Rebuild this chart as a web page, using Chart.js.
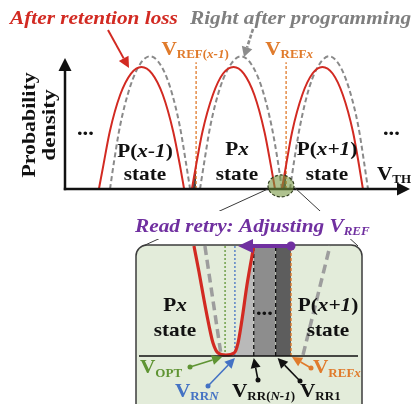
<!DOCTYPE html>
<html lang="en">
<head>
<meta charset="utf-8">
<title>Read retry: adjusting V_REF</title>
<script src="https://cdn.jsdelivr.net/npm/chart.js@4.4.1/dist/chart.umd.min.js"></script>
<style>
  html, body { margin: 0; padding: 0; background: #ffffff; overflow: hidden; }
  #stage { position: relative; width: 419px; height: 404px; }
  #stage canvas { position: absolute; left: 0; top: 0; }
</style>
</head>
<body>
<div id="stage">
  <canvas id="distChart" width="419" height="404"></canvas>
  <canvas id="zoomChart" width="419" height="404"></canvas>
</div>
<script>
// ---------- V_TH distributions: [V_TH (V), density relative to the programmed peak] ----------
const progPxm1 = [[1.5,0],[1.63,0.2],[1.83,0.47],[2.17,0.77],[2.5,0.94],[2.83,1.0],[3.17,0.94],[3.5,0.77],[3.83,0.47],[4.03,0.2],[4.17,0]];
const progPx   = [[4.5,0],[4.64,0.2],[4.84,0.47],[5.18,0.77],[5.53,0.94],[5.87,1.0],[6.21,0.94],[6.55,0.77],[6.89,0.47],[7.1,0.2],[7.23,0]];
const progPxp1 = [[7.5,0],[7.63,0.2],[7.83,0.47],[8.15,0.77],[8.48,0.94],[8.8,1.0],[9.13,0.94],[9.45,0.77],[9.78,0.47],[9.97,0.2],[10.1,0]];

const retPxm1 = [[1.13,0],[1.28,0.18],[1.49,0.43],[1.84,0.71],[2.2,0.87],[2.55,0.92],[2.9,0.87],[3.26,0.71],[3.61,0.43],[3.83,0.18],[3.97,0]];
const retPx   = [[4.23,0],[4.37,0.18],[4.58,0.43],[4.93,0.71],[5.27,0.87],[5.62,0.92],[5.96,0.87],[6.31,0.71],[6.65,0.43],[6.86,0.18],[7.0,0]];
const retPxp1 = [[7.23,0],[7.37,0.18],[7.57,0.43],[7.91,0.71],[8.25,0.87],[8.58,0.92],[8.92,0.87],[9.26,0.71],[9.6,0.43],[9.8,0.18],[9.93,0]];

// cells of the upper state that fall below the read reference
const misreadPx   = [[4.23,0],[4.3,0.08],[4.37,0.18],[4.37,0]];
const misreadPxp1 = [[7.23,0],[7.3,0.08],[7.37,0.18],[7.37,0]];

// read reference voltages
const refVoltages = [4.37, 7.37];
const refLineTop = 0.955;

// ---------- magnified valley between Px and P(x+1) ----------
const zoomRetained  = [[6.927,1.0],[6.95,0.764],[6.973,0.509],[6.996,0.273],[7.014,0.118],[7.037,0.027],[7.073,0.009],[7.11,0.027],[7.128,0.118],[7.146,0.327],[7.169,0.645],[7.2,1.0]];
const zoomProgLeft  = [[6.977,1.0],[7.05,0.02]];
const zoomProgRight = [[7.425,0.01],[7.548,1.0]];
const zoomLightShade = [[7.118,0],[7.128,0.118],[7.146,0.327],[7.169,0.645],[7.2,1.0],[7.2,0]];

// retry read levels (V)
const vOpt = 7.069, vRRN = 7.114, vRRNm1 = 7.2, vRR1 = 7.3, vREFx = 7.37;
const retryBands = [[vRRNm1, vRR1], [vRR1, vREFx]];
const adjustArrow = [vREFx, 7.128];

// ---------- styling ----------
const SERIF = '"Liberation Serif", "Times New Roman", serif';
const SX = 1.12;
const RED = '#d22a22', GREY = '#8a8a8a', ORANGE = '#e07b2c', PURPLE = '#7030a0',
      GREEN = '#5f9433', BLUE = '#4472c4', INK = '#111111';

const toXY = pts => pts.map(([x, y]) => ({ x, y }));
const n = t => ({ t }), it = t => ({ t, it: true }), sb = t => ({ t, sub: true }), sbi = t => ({ t, sub: true, it: true });

function drawRuns(ctx, runs, x, y, o) {
  const size = o.size || 19, subSize = o.subSize || 13, subDy = o.subDy ?? 3;
  const font = r => `${(r.it || o.italic) ? 'italic ' : ''}bold ${r.sub ? subSize : size}px ${SERIF}`;
  const sc = r => r.sub ? 1 : (o.sx ?? SX);
  let total = 0;
  for (const r of runs) { ctx.font = font(r); total += ctx.measureText(r.t).width * sc(r); }
  let cx = o.align === 'center' ? x - total / 2 : (o.align === 'right' ? x - total : x);
  ctx.save();
  ctx.fillStyle = o.color || INK;
  ctx.textAlign = 'left';
  ctx.textBaseline = 'alphabetic';
  for (const r of runs) {
    ctx.font = font(r);
    const w = ctx.measureText(r.t).width, s = sc(r);
    ctx.save();
    ctx.translate(cx, y + (r.sub ? subDy : 0));
    ctx.scale(s, 1);
    ctx.fillText(r.t, 0, 0);
    ctx.restore();
    cx += w * s;
  }
  ctx.restore();
  return total;
}

function arrow(ctx, x1, y1, x2, y2, o) {
  const len = o.head || 9, half = o.half || 4.5;
  const a = Math.atan2(y2 - y1, x2 - x1);
  const bx = x2 - Math.cos(a) * len, by = y2 - Math.sin(a) * len;
  ctx.save();
  ctx.strokeStyle = o.color; ctx.fillStyle = o.color;
  ctx.lineWidth = o.width || 1.5;
  ctx.setLineDash(o.dash || []);
  ctx.beginPath(); ctx.moveTo(x1, y1); ctx.lineTo(bx, by); ctx.stroke();
  ctx.setLineDash([]);
  ctx.beginPath();
  ctx.moveTo(x2, y2);
  ctx.lineTo(bx - Math.sin(a) * half, by + Math.cos(a) * half);
  ctx.lineTo(bx + Math.sin(a) * half, by - Math.cos(a) * half);
  ctx.closePath(); ctx.fill();
  if (o.dot) { ctx.beginPath(); ctx.arc(x1, y1, o.dot, 0, Math.PI * 2); ctx.fill(); }
  ctx.restore();
}

const curve = (pts, color, dash, order, width) => ({
  data: toXY(pts), borderColor: color, borderWidth: width, borderDash: dash,
  pointRadius: 0, fill: false, cubicInterpolationMode: 'monotone', order, clip: false
});
const area = (pts, color, order) => ({
  data: toXY(pts), borderWidth: 0, borderColor: 'rgba(0,0,0,0)', backgroundColor: color,
  pointRadius: 0, fill: 'origin', tension: 0, order, clip: false
});
const vline = (v, top, color, dash, width, order) => ({
  data: toXY([[v, 0], [v, top]]), borderColor: color, borderWidth: width, borderDash: dash,
  pointRadius: 0, fill: false, tension: 0, order, clip: false
});

const common = {
  responsive: false, animation: false, devicePixelRatio: 1, events: [],
  plugins: { legend: { display: false }, tooltip: { enabled: false } }
};

// ---------- upper plot: distributions ----------
const ELLIPSE = { v: 7.2, d: 0.023, rx: 13, ry: 11 };

const distDecor = {
  id: 'distDecor',
  afterDatasetsDraw(chart) {
    const { ctx, chartArea: a, scales: { x, y } } = chart;
    const y0 = y.getPixelForValue(0);
    // axes with arrow heads
    ctx.save();
    ctx.strokeStyle = INK; ctx.fillStyle = INK; ctx.lineWidth = 2.5;
    ctx.beginPath(); ctx.moveTo(a.left, y0 + 1.2); ctx.lineTo(a.left, 70); ctx.stroke();
    ctx.beginPath(); ctx.moveTo(a.left - 6.5, 71); ctx.lineTo(a.left, 58); ctx.lineTo(a.left + 6.5, 71); ctx.closePath(); ctx.fill();
    ctx.beginPath(); ctx.moveTo(a.left - 1.2, y0); ctx.lineTo(a.right - 11, y0); ctx.stroke();
    ctx.beginPath(); ctx.moveTo(a.right - 13, y0 - 6.5); ctx.lineTo(a.right, y0); ctx.lineTo(a.right - 13, y0 + 6.5); ctx.closePath(); ctx.fill();
    ctx.restore();

    // magnifier ellipse on the Px / P(x+1) valley
    const ex = x.getPixelForValue(ELLIPSE.v), ey = y.getPixelForValue(ELLIPSE.d);
    ctx.save();
    ctx.beginPath(); ctx.ellipse(ex, ey, ELLIPSE.rx, ELLIPSE.ry, 0, 0, Math.PI * 2);
    ctx.fillStyle = 'rgba(118,150,62,0.58)'; ctx.fill();
    ctx.setLineDash([3, 2]); ctx.lineWidth = 1.2; ctx.strokeStyle = '#2d3a1c'; ctx.stroke();
    ctx.restore();

    // legend-style titles with pointer arrows
    drawRuns(ctx, [n('After retention loss')], 10, 24, { color: RED, italic: true });
    drawRuns(ctx, [n('Right after programming')], 190, 24, { color: '#7f7f7f', italic: true });
    arrow(ctx, 108, 30, 129, 68, { color: RED, width: 2, head: 11, half: 5.5 });
    arrow(ctx, 253, 29, 244, 57, { color: '#8c8c8c', width: 2.6, head: 10, half: 5.5, dash: [4, 2] });

    // reference labels
    const r1 = x.getPixelForValue(refVoltages[0]), r2 = x.getPixelForValue(refVoltages[1]);
    drawRuns(ctx, [n('V'), sb('REF('), sbi('x-1'), sb(')')], r1 - 1, 55, { color: ORANGE, align: 'center' });
    drawRuns(ctx, [n('V'), sb('REF'), sbi('x')], r2 + 3, 55, { color: ORANGE, align: 'center' });

    // y-axis title
    ctx.save(); ctx.translate(34.5, 125); ctx.rotate(-Math.PI / 2);
    drawRuns(ctx, [n('Probability')], 0, 0, { align: 'center', size: 19.5 });
    ctx.restore();
    ctx.save(); ctx.translate(55, 125); ctx.rotate(-Math.PI / 2);
    drawRuns(ctx, [n('density')], 0, 0, { align: 'center', size: 19.5, sx: 1.2 });
    ctx.restore();

    // state labels
    drawRuns(ctx, [n('P('), it('x-1'), n(')')], 145, 157, { align: 'center' });
    drawRuns(ctx, [n('state')], 145, 180, { align: 'center' });
    drawRuns(ctx, [n('P'), it('x')], 237, 155, { align: 'center' });
    drawRuns(ctx, [n('state')], 237, 180, { align: 'center' });
    drawRuns(ctx, [n('P('), it('x+1'), n(')')], 327, 155, { align: 'center' });
    drawRuns(ctx, [n('state')], 327, 180, { align: 'center' });
    drawRuns(ctx, [n('...')], 77, 135, { size: 20 });
    drawRuns(ctx, [n('...')], 383, 135, { size: 20 });
    drawRuns(ctx, [n('V'), sb('TH')], 377, 180, {});
  }
};

const distChart = new Chart(document.getElementById('distChart'), {
  type: 'line',
  data: {
    datasets: [
      area(misreadPx, '#444444', 6),
      area(misreadPxp1, '#444444', 6),
      vline(refVoltages[0], refLineTop, ORANGE, [3, 2], 1.3, 4),
      vline(refVoltages[1], refLineTop, ORANGE, [3, 2], 1.3, 4),
      curve(progPxm1, GREY, [5, 3], 3, 2),
      curve(progPx, GREY, [5, 3], 3, 2),
      curve(progPxp1, GREY, [5, 3], 3, 2),
      curve(retPxm1, RED, [], 1, 2),
      curve(retPx, RED, [], 1, 2),
      curve(retPxp1, RED, [], 1, 2)
    ]
  },
  options: Object.assign({}, common, {
    layout: { padding: { left: 65, right: 9, top: 43, bottom: 215 } },
    scales: {
      x: { type: 'linear', min: 0, max: 11.5, display: false },
      y: { type: 'linear', min: 0, max: 1.1, display: false }
    }
  }),
  plugins: [distDecor]
});

// ---------- lower plot: magnified valley with read-retry levels ----------
const zoomDecor = {
  id: 'zoomDecor',
  beforeDatasetsDraw(chart) {
    const { ctx, chartArea: a } = chart;
    // panel
    const px = a.left - 3, py = a.top - 1, pw = a.right + 4 - px, ph = 440 - py, r = 11;
    ctx.save();
    ctx.beginPath();
    ctx.moveTo(px + r, py); ctx.lineTo(px + pw - r, py); ctx.arcTo(px + pw, py, px + pw, py + r, r);
    ctx.lineTo(px + pw, py + ph); ctx.lineTo(px, py + ph); ctx.lineTo(px, py + r); ctx.arcTo(px, py, px + r, py, r);
    ctx.closePath();
    ctx.fillStyle = '#e3ecda'; ctx.fill();
    ctx.lineWidth = 1.5; ctx.strokeStyle = '#3c3c3c'; ctx.stroke();
    ctx.restore();

    // guide lines from the magnifier to the panel
    const dx = distChart.scales.x, dy = distChart.scales.y;
    const ex = dx.getPixelForValue(ELLIPSE.v), ey = dy.getPixelForValue(ELLIPSE.d);
    ctx.save();
    ctx.strokeStyle = '#3a3a3a'; ctx.lineWidth = 1;
    ctx.beginPath(); ctx.moveTo(ex - 13, ey + 3); ctx.lineTo(a.left + 4, a.top); ctx.stroke();
    ctx.beginPath(); ctx.moveTo(ex + 14, ey + 2); ctx.lineTo(a.right, a.top); ctx.stroke();
    ctx.fillStyle = '#ffffff'; ctx.fillRect(133, 211, 244, 28);
    ctx.restore();

    drawRuns(ctx, [n('Read retry: Adjusting '), n('V'), sb('REF')], 135, 232, { color: PURPLE, italic: true });
  },
  afterDatasetsDraw(chart) {
    const { ctx, chartArea: a, scales: { x, y } } = chart;
    const y0 = y.getPixelForValue(0);
    // baseline
    ctx.save(); ctx.strokeStyle = INK; ctx.lineWidth = 1.5;
    ctx.beginPath(); ctx.moveTo(a.left, y0); ctx.lineTo(a.right, y0); ctx.stroke(); ctx.restore();

    // adjusting arrow
    const ya = y.getPixelForValue(1);
    const xs = x.getPixelForValue(adjustArrow[0]), xe = x.getPixelForValue(adjustArrow[1]);
    arrow(ctx, xs, ya, xe, ya, { color: PURPLE, width: 4, head: 15, half: 7, dot: 4.5 });

    // state labels
    drawRuns(ctx, [n('P'), it('x')], 175, 311, { align: 'center' });
    drawRuns(ctx, [n('state')], 175, 336, { align: 'center' });
    drawRuns(ctx, [n('P('), it('x+1'), n(')')], 328, 311, { align: 'center' });
    drawRuns(ctx, [n('state')], 328, 336, { align: 'center' });
    drawRuns(ctx, [n('...')], 256, 315, { size: 20 });

    // level labels with pointers
    const tip = v => x.getPixelForValue(v);
    arrow(ctx, 190, 367, tip(vOpt) - 3, y0 + 1, { color: GREEN, width: 1.6, head: 10, half: 5, dot: 2.5 });
    arrow(ctx, 208, 386, tip(vRRN), y0 + 2, { color: BLUE, width: 1.6, head: 10, half: 5, dot: 2.5 });
    arrow(ctx, 258, 380, tip(vRRNm1), y0 + 2, { color: INK, width: 1.6, head: 10, half: 5, dot: 2.5 });
    arrow(ctx, 300, 381, tip(vRR1) + 2, y0 + 2, { color: INK, width: 1.6, head: 10, half: 5, dot: 2.5 });
    arrow(ctx, 311, 368, tip(vREFx) + 1, y0 + 1, { color: ORANGE, width: 1.6, head: 10, half: 5, dot: 2.5 });

    drawRuns(ctx, [n('V'), sb('OPT')], 140, 373, { color: GREEN, subDy: 4 });
    drawRuns(ctx, [n('V'), sb('REF'), sbi('x')], 313, 373, { color: ORANGE, subDy: 4 });
    drawRuns(ctx, [n('V'), sb('RR'), sbi('N')], 175, 397, { color: BLUE, subDy: 3 });
    drawRuns(ctx, [n('V'), sb('RR('), sbi('N-1'), sb(')')], 232, 397, { subDy: 3 });
    drawRuns(ctx, [n('V'), sb('RR1')], 300, 397, { subDy: 3 });
  }
};

new Chart(document.getElementById('zoomChart'), {
  type: 'line',
  data: {
    datasets: [
      area(zoomLightShade, '#b9b9b9', 10),
      area([[retryBands[0][0], 1], [retryBands[0][1], 1]], '#8d8d8d', 9),
      area([[retryBands[1][0], 1], [retryBands[1][1], 1]], '#5d5d5d', 9),
      curve(zoomProgLeft, '#9d9d9d', [9, 5], 5, 3.5),
      curve(zoomProgRight, '#9d9d9d', [9, 5], 5, 3.5),
      vline(vOpt, 1, GREEN, [2, 2], 1.3, 4),
      vline(vRRN, 1, BLUE, [2, 2], 1.3, 4),
      vline(vRRNm1, 1, INK, [4, 3], 1.3, 4),
      vline(vRR1, 1, INK, [4, 3], 1.3, 4),
      vline(vREFx, 1, ORANGE, [3, 2], 1.4, 4),
      curve(zoomRetained, RED, [], 1, 3.2)
    ]
  },
  options: Object.assign({}, common, {
    layout: { padding: { left: 139, right: 61, top: 246, bottom: 48 } },
    scales: {
      x: { type: 'linear', min: 6.676, max: 7.676, display: false },
      y: { type: 'linear', min: 0, max: 1, display: false }
    }
  }),
  plugins: [zoomDecor]
});
</script>
</body>
</html>
